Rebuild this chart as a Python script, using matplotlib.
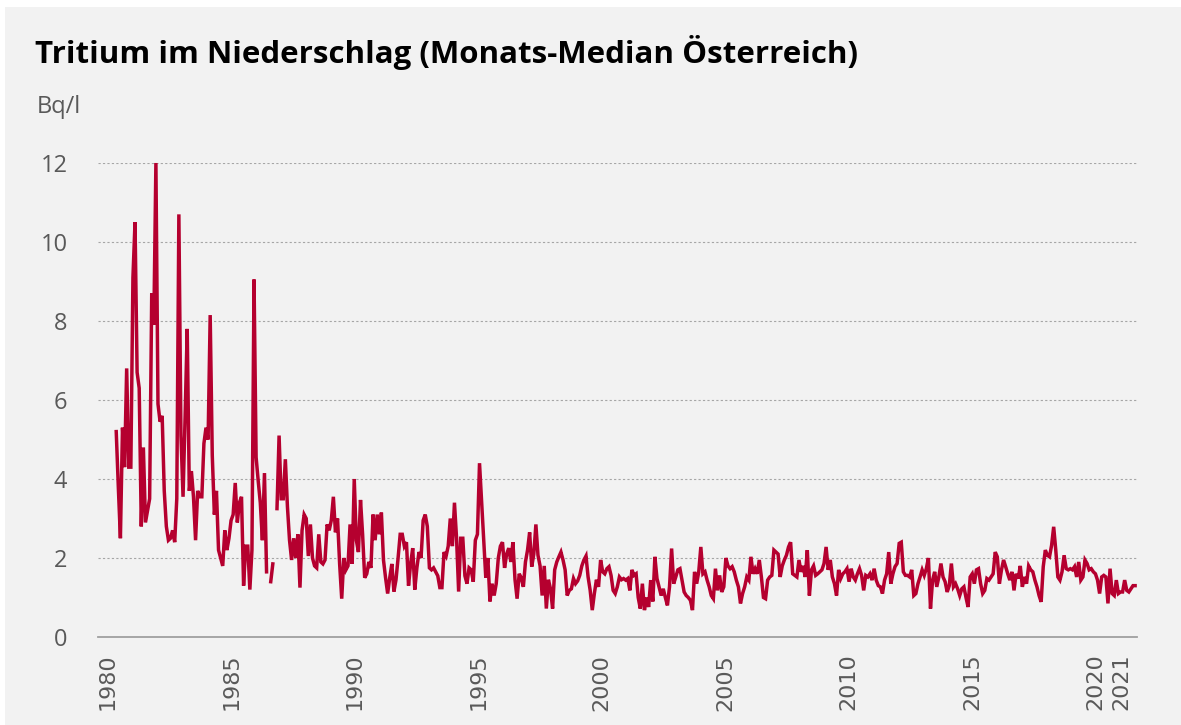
import numpy as np
import matplotlib
matplotlib.use("Agg")
import matplotlib.pyplot as plt
from matplotlib.patches import Rectangle

# monthly median tritium in precipitation (Bq/l), May 1980 .. mid 2021
# nan = missing months around 1986
vals_1980 = [5.2, 3.8, 2.5, 5.3, 4.3, 6.8, 4.3, 4.3, 9.1, 10.5, 6.7, 6.3, 2.8, 4.8, 2.9,
             3.2, 3.5, 8.7, 7.9, 12.0, 5.9, 5.45, 5.6, 3.7, 2.8, 2.45, 2.5, 2.7, 2.4, 3.5,
             10.7, 5.1, 3.55, 5.6, 7.8, 3.7, 4.2, 3.55, 2.45, 3.7, 3.55, 3.55, 4.9, 5.3, 5.0,
             8.15, 4.6, 3.1, 3.7, 2.2, 2.0, 1.8, 2.7, 2.2, 2.5, 2.95, 3.1, 3.9, 2.9, 3.4]
vals_1985 = [3.55, 1.3, 2.3, 2.3, 1.2, 2.2, 9.05, 4.55, 3.95, 3.4, 2.45, 4.15, 1.65, np.nan,
             1.4, 1.85, np.nan, 3.25, 5.1, 3.5, 3.5, 4.5, 3.3, 2.45, 1.95, 2.5, 2.0, 2.6, 1.25,
             2.7, 3.1, 3.0, 2.05, 2.85, 2.0, 1.8, 1.75, 2.6, 1.9, 1.85, 1.95, 2.85, 2.7, 2.95,
             3.55, 2.65, 3.0, 1.85, 0.97, 2.0, 1.7, 1.8, 2.85, 1.85, 4.0, 2.45, 2.15]
vals_1990 = [3.47, 2.6, 1.5, 1.6, 1.9, 1.75, 3.1, 2.45, 3.1, 2.6, 3.15, 1.95, 1.5, 1.1,
             1.5, 1.85, 1.15, 1.45, 2.0, 2.6, 2.6, 2.3, 2.4, 1.3, 1.85, 2.25, 1.2, 1.75,
             2.15, 2.0, 2.95, 3.1, 2.8, 1.75, 1.7, 1.75, 1.65, 1.55, 1.25, 1.25, 2.15, 2.05,
             2.3, 3.0, 2.3, 3.4, 2.5, 1.15, 2.5, 2.5, 1.55, 1.35, 1.75, 1.7, 1.4, 2.45, 2.6,
             4.4, 3.45, 2.45, 1.5, 2.0, 0.9, 1.35, 1.05, 1.35, 2.0, 2.3]
vals_1996 = [2.4, 1.75, 2.1, 2.25, 1.9, 2.4, 1.45, 0.97, 1.6, 1.5, 1.27, 1.9, 2.2, 2.65, 1.78,
             2.1, 2.85, 2.07, 1.8, 1.05, 1.8, 0.72, 1.45, 1.22, 0.72, 1.7, 1.9, 2.03, 2.15,
             1.95, 1.7, 1.05, 1.18, 1.22, 1.48, 1.35, 1.42, 1.56, 1.8, 1.95, 2.05, 1.52,
             1.18, 0.68, 1.1, 1.45, 1.27, 1.95, 1.65, 1.6, 1.73, 1.78, 1.56, 1.18,
             1.1, 1.27, 1.52, 1.45]
vals_2000 = [1.48, 1.44, 1.48, 1.18, 1.7, 1.56, 1.6, 1.0, 0.72, 1.35, 0.68, 1.0, 0.76, 1.44,
             0.9, 2.03, 1.48, 1.27, 1.05, 1.22, 1.0, 0.8, 1.27, 2.24, 1.35, 1.52, 1.7,
             1.73, 1.44, 1.14, 1.05, 1.0, 0.93, 0.68, 1.65, 1.35, 1.65, 2.28, 1.6, 1.65,
             1.44, 1.27, 1.05, 0.97, 1.73, 1.18, 1.56, 1.14, 1.27, 2.0, 1.8, 1.73, 1.78,
             1.65, 1.44, 1.27, 0.85]
vals_2005 = [1.1, 1.27, 1.52, 1.44, 2.03, 1.6, 1.73, 1.6, 1.95, 1.52, 1.0, 0.97, 1.44, 1.52,
             1.56, 2.2, 2.15, 2.1, 1.52, 1.8, 1.95, 2.07, 2.28, 2.4, 1.6, 1.56, 1.52,
             1.95, 1.65, 1.8, 1.52, 2.2, 1.05, 1.7, 1.8, 1.56, 1.6, 1.65, 1.7, 1.86,
             2.28, 1.7, 1.95, 1.52, 1.35, 1.05, 1.7, 1.48, 1.6, 1.65, 1.73, 1.4, 1.73,
             1.52, 1.44, 1.6]
vals_2010 = [1.73, 1.56, 1.18, 1.56, 1.52, 1.6, 1.44, 1.73, 1.44, 1.3, 1.27, 1.1, 1.44,
             1.6, 2.15, 1.35, 1.6, 1.78, 1.86, 2.37, 2.4, 1.65, 1.56, 1.56, 1.52, 1.7, 1.05,
             1.1, 1.35, 1.52, 1.7, 1.56, 1.73, 2.0, 0.72, 1.44, 1.65, 1.27, 1.52, 1.86,
             1.52, 1.4, 1.14, 1.3, 1.86, 1.27, 1.35, 1.22, 1.05, 1.22, 1.27, 1.0, 0.76, 1.52,
             1.6, 1.35, 1.7, 1.73, 1.35, 1.1, 1.18, 1.48]
vals_2015 = [1.44, 1.52, 1.6, 2.15, 2.03, 1.35, 1.7, 1.95, 1.78, 1.6, 1.44, 1.65, 1.18, 1.6,
             1.48, 1.8, 1.27, 1.52, 1.35, 1.8, 1.7, 1.65, 1.44, 1.27, 1.05, 0.89, 1.78,
             2.2, 2.07, 2.03, 2.32, 2.79, 2.2, 1.52, 1.44, 1.65, 2.07, 1.73, 1.7, 1.73,
             1.7, 1.78, 1.52, 1.9, 1.44, 1.52, 1.95, 1.86, 1.7, 1.73, 1.65, 1.6, 1.44, 1.1,
             1.52, 1.56, 1.52, 0.85, 1.73, 1.1, 1.05, 1.44, 1.1, 1.14, 1.14, 1.44, 1.18,
             1.14, 1.22, 1.3, 1.3]

start_year = 1980 + 4 / 12
end_year = 2021.6
year_ticks = [1980, 1985, 1990, 1995, 2000, 2005, 2010, 2015, 2020, 2021]
y_ticks = [0, 2, 4, 6, 8, 10, 12]

title = "Tritium im Niederschlag (Monats-Median Österreich)"
unit = "Bq/l"

values = np.array(vals_1980 + vals_1985 + vals_1990 + vals_1996 +
                  vals_2000 + vals_2005 + vals_2010 + vals_2015)
x = np.linspace(start_year, end_year, len(values))

bg = "#f2f2f2"
red = "#b5002f"
grey = "#595959"

fig = plt.figure(figsize=(11.81, 7.25), dpi=100, facecolor="white")
fig.patches.append(Rectangle((5 / 1181, 0), 1, 718 / 725, transform=fig.transFigure,
                             facecolor=bg, edgecolor="none", zorder=-10))
ax = fig.add_axes([98 / 1181, 88 / 725, 1039 / 1181, 474 / 725])
ax.set_facecolor(bg)

ax.plot(x, values, color=red, lw=2.5, solid_joinstyle="miter", clip_on=False, zorder=3)

ax.set_ylim(0, 12)
ax.set_xlim(1980 - 10 / 24.69, 1980 + (1137 - 108) / 24.69)
ax.set_yticks(y_ticks)
ax.set_yticklabels([str(v) for v in y_ticks], fontsize=17, color=grey, family="Open Sans")
ax.set_xticks([t if t != 2021 else 2021.05 for t in year_ticks])
ax.set_xticklabels([str(t) for t in year_ticks], rotation=90, fontsize=16, color=grey)
ax.tick_params(axis="y", length=0, pad=22)
ax.tick_params(axis="x", length=0, pad=12)

ax.grid(axis="y", color="#a6a6a6", lw=0.8, ls=(0, (2, 2)))
ax.grid(axis="x", visible=False)
for side in ["left", "right", "top"]:
    ax.spines[side].set_visible(False)
ax.spines["bottom"].set_color("#a0a0a0")
ax.spines["bottom"].set_linewidth(1.3)
ax.set_axisbelow(True)

fig.text(35 / 1181, 1 - 52 / 725, title, fontsize=22.5, fontweight="bold",
         family="Open Sans", color="black", va="center", ha="left")
fig.text(37 / 1181, 1 - 107 / 725, unit, fontsize=17, family="Open Sans",
         color=grey, va="center", ha="left")

fig.savefig("out.png", dpi=100, facecolor=fig.get_facecolor())
